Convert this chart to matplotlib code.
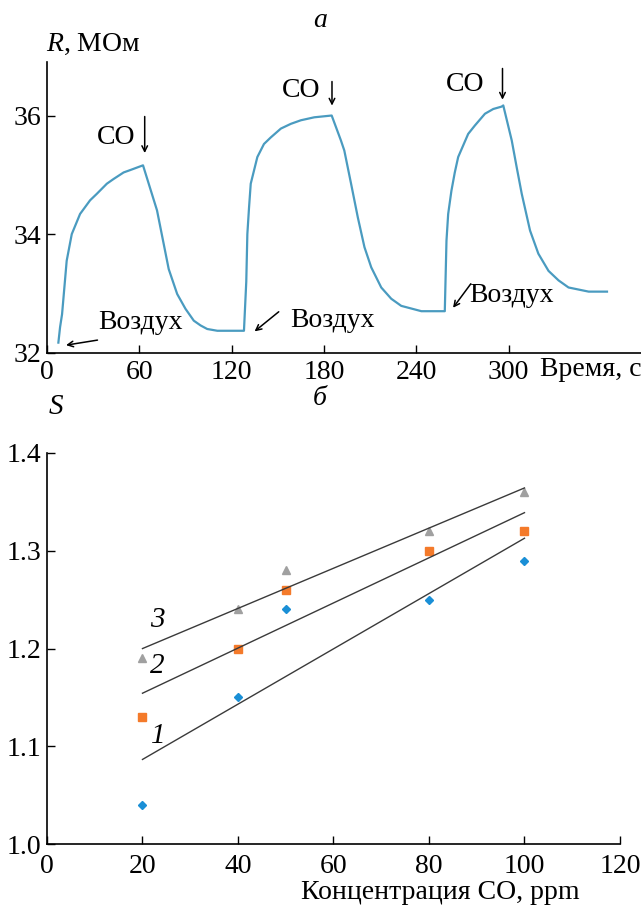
import numpy as np
import matplotlib.pyplot as plt

plt.rcParams['font.family'] = ['Liberation Serif', 'DejaVu Serif']
plt.rcParams['mathtext.fontset'] = 'custom'
plt.rcParams['mathtext.rm'] = 'Liberation Serif'
plt.rcParams['mathtext.it'] = 'Liberation Serif:italic'

# --- (а) отклик сопротивления во времени
t = [7.4, 8.5, 9.8, 11.7, 12.8, 16.1, 21.5, 28, 32.4, 38.9, 43.3, 49.8, 54.1, 62.4,
     71.5, 79.1, 84.6, 90, 95.4, 99.8, 104.1, 110.7, 128,
     129.5, 130.2, 131.3, 132.4, 136.7, 141, 145.4, 152, 158.5, 165, 173.7, 185,
     191, 193.2, 197.6, 202, 206.3, 210.7, 217.2, 223.7, 230.2, 243.3, 258.5,
     259.6, 260.7, 262.8, 265, 267.2, 273.7, 278, 284.6, 290, 295.4, 296.5,
     302, 305.2, 308.5, 313.9, 319.3, 325.9, 332.4, 338.9, 352, 363.9]
R = [32.17, 32.43, 32.65, 33.22, 33.55, 34.0, 34.34, 34.57, 34.68, 34.85, 34.93, 35.04, 35.08, 35.16,
     34.40, 33.41, 32.99, 32.74, 32.54, 32.46, 32.40, 32.37, 32.37,
     33.2, 34.0, 34.45, 34.85, 35.30, 35.52, 35.63, 35.78, 35.86, 35.92, 35.97, 36.0,
     35.58, 35.41, 34.85, 34.28, 33.78, 33.44, 33.10, 32.91, 32.79, 32.70, 32.70,
     33.89, 34.34, 34.73, 35.04, 35.30, 35.69, 35.83, 36.03, 36.11, 36.15, 36.17,
     35.58, 35.13, 34.68, 34.06, 33.67, 33.38, 33.22, 33.10, 33.03, 33.03]

# --- (б) чувствительность от концентрации
conc = [20, 40, 50, 80, 100]
S1 = [1.04, 1.15, 1.24, 1.25, 1.29]
S2 = [1.13, 1.20, 1.26, 1.30, 1.32]
S3 = [1.19, 1.24, 1.28, 1.32, 1.36]

fs = 20

fig = plt.figure(figsize=(6.41, 9.06), dpi=100)
ax1 = fig.add_axes([0.0733, 0.6107, 0.9267, 0.3207])
ax2 = fig.add_axes([0.0733, 0.0684, 0.8939, 0.4316])

for ax in (ax1, ax2):
    ax.spines['top'].set_visible(False)
    ax.spines['right'].set_visible(False)
    ax.spines['left'].set_linewidth(1.2)
    ax.spines['bottom'].set_linewidth(1.2)
    ax.tick_params(direction='in', length=6, width=1, labelsize=fs, pad=7)
    ax.tick_params(axis='y', pad=4)
ax1.tick_params(axis='x', pad=5)

ax1.plot(t, R, color='#4a9bc0', lw=1.6)
ax1.set_xlim(0, 386)
ax1.set_ylim(32, 36.9)
ax1.set_xticks([0, 60, 120, 180, 240, 300])
ax1.set_yticks([32, 34, 36])
ax1.text(0.46, 1.145, 'а', transform=ax1.transAxes, ha='center', va='center',
         fontsize=fs, style='italic')
ax1.text(-0.002, 1.062, '$R$, МОм', transform=ax1.transAxes, ha='left',
         va='center', fontsize=fs)
ax1.text(1.0, -0.058, 'Время, с', transform=ax1.transAxes, ha='right',
         va='center', fontsize=fs)

arr = dict(arrowstyle='->', color='black', lw=1.1)
ax1.annotate('', xy=(63.5, 35.32), xytext=(63.5, 36.03), arrowprops=arr)
ax1.text(45, 35.63, 'CO', ha='center', va='center', fontsize=fs)
ax1.annotate('', xy=(185.2, 36.12), xytext=(185.2, 36.62), arrowprops=arr)
ax1.text(165, 36.42, 'CO', ha='center', va='center', fontsize=fs)
ax1.annotate('', xy=(296, 36.22), xytext=(296, 36.84), arrowprops=arr)
ax1.text(272, 36.53, 'CO', ha='center', va='center', fontsize=fs)

ax1.annotate('', xy=(10.6, 32.12), xytext=(34.6, 32.22), arrowprops=arr)
ax1.text(60.7, 32.51, 'Воздух', ha='center', va='center', fontsize=fs)
ax1.annotate('', xy=(133.5, 32.33), xytext=(152, 32.72), arrowprops=arr)
ax1.text(185.2, 32.54, 'Воздух', ha='center', va='center', fontsize=fs)
ax1.annotate('', xy=(262.8, 32.72), xytext=(276.5, 33.2), arrowprops=arr)
ax1.text(302, 32.96, 'Воздух', ha='center', va='center', fontsize=fs)

series = [(S1, 'D', '#1a8fd6', 4), (S2, 's', '#f47a2a', 6), (S3, '^', '#a0a0a0', 5.5)]
for S, m, c, ms in series:
    ax2.plot(conc, S, ls='none', marker=m, color=c, ms=ms, mec=c)
    k, b = np.polyfit(conc, S, 1)
    xs = np.array([conc[0], conc[-1]])
    ax2.plot(xs, k * xs + b, color='#3a3a3a', lw=1.0)

ax2.set_xlim(0, 120)
ax2.set_ylim(1.0, 1.4)
ax2.set_xticks([0, 20, 40, 60, 80, 100, 120])
ax2.set_yticks([1.0, 1.1, 1.2, 1.3, 1.4])
ax2.set_yticklabels(['1.0', '1.1', '1.2', '1.3', '1.4'])

ax2.text(23.1, 1.229, '3', ha='center', va='center', fontsize=21, style='italic')
ax2.text(23.1, 1.182, '2', ha='center', va='center', fontsize=21, style='italic')
ax2.text(23.3, 1.111, '1', ha='center', va='center', fontsize=21, style='italic')

ax2.text(0.476, 1.14, 'б', transform=ax2.transAxes, ha='center', va='center',
         fontsize=fs, style='italic')
ax2.text(0.003, 1.118, 'S', transform=ax2.transAxes, ha='left', va='center',
         fontsize=21, style='italic')
ax2.text(0.93, -0.125, 'Концентрация CO, ppm', transform=ax2.transAxes,
         ha='right', va='center', fontsize=fs)

fig.savefig('out.png', dpi=100)
